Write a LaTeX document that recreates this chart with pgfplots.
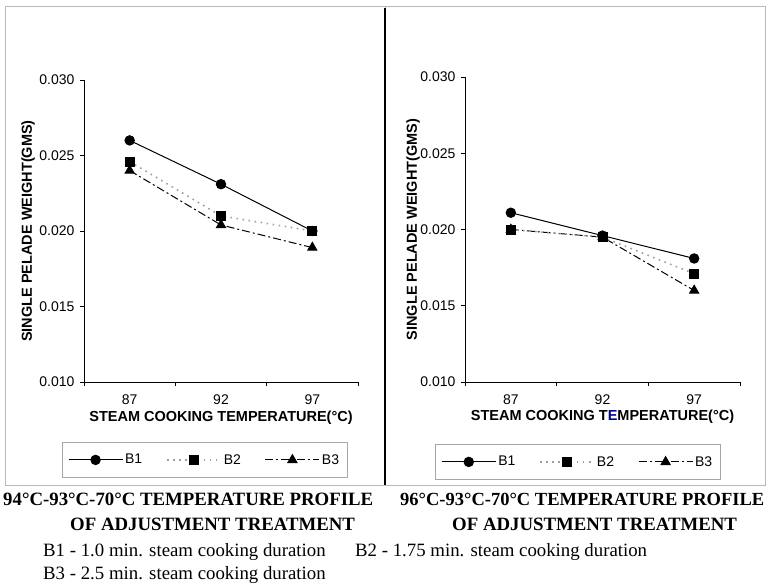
\documentclass[border=0pt]{standalone}
\usepackage{pgfplots}
\pgfplotsset{compat=1.18}
\usepackage{fontspec}
\setmainfont{Liberation Serif}
\newfontfamily\arial{Liberation Sans}

\pgfplotsset{
  common/.style={
    scale only axis,
    anchor=south west,
    xmin=-0.5, xmax=2.5,
    ymin=0.010, ymax=0.030,
    axis x line*=bottom, axis y line*=left,
    axis line style={black, line width=0.9pt, -},
    xtick={0,1,2}, xticklabels={87,92,97},
    major x tick style={draw=none},
    minor xtick={-0.5,0.5,1.5,2.5},
    minor tick length=4pt,
    ytick={0.010,0.015,0.020,0.025,0.030},
    major tick length=4pt,
    tick align=outside,
    tick style={black, line width=0.7pt},
    yticklabel style={xshift=-2pt, /pgf/number format/.cd, fixed, fixed zerofill, precision=3},
    scaled y ticks=false,
    /pgf/number format/assume math mode=true,
    ticklabel style={font=\arial\fontsize{14}{15}\selectfont},
    xticklabel style={yshift=-5pt},
    label style={font=\arial\bfseries\fontsize{14.5}{16}\selectfont},
    ylabel={SINGLE PELADE WEIGHT(GMS)},
    legend columns=3,
    reverse legend,
    legend cell align=left,
    legend style={draw=gray!70, line width=0.8pt, anchor=center,
      inner xsep=6pt, inner ysep=10pt,
      font=\arial\fontsize{14}{15}\selectfont,
      /tikz/every even column/.append style={column sep=22pt}},
    legend image code/.code={\draw[mark repeat=2, mark phase=2, #1] plot coordinates {(0pt,0pt) (27pt,0pt) (54pt,0pt)};},
  },
  sB1/.style={black, line width=1pt, mark=*, mark size=4.7pt, mark options={solid}},
  sB2/.style={gray!75, line width=1.6pt, dash pattern=on 1.6pt off 4.5pt, mark=square*, mark size=4.2pt, mark options={solid, black, fill=black}},
  sB3/.style={black, line width=1pt, dash pattern=on 8pt off 3pt on 2pt off 3pt, mark=triangle*, mark size=5.2pt, mark options={solid}},
}

\begin{document}
\begin{tikzpicture}
\useasboundingbox (0pt,0pt) rectangle (770pt,-586pt);
% panel frames
\draw[gray!55, line width=0.8pt] (5pt,-6pt) rectangle (385pt,-485pt);
\draw[gray!55, line width=0.8pt] (385pt,-6pt) rectangle (765pt,-485pt);
\draw[black, line width=1.3pt] (385pt,-8pt) -- (385pt,-485pt);

% left chart
\begin{axis}[common, at={(84pt,-382pt)}, width=274pt, height=302pt,
  xlabel={STEAM COOKING TEMPERATURE(°C)},
  xlabel style={at={(axis description cs:0.5,-0.12)}, anchor=center},
  ylabel style={at={(axis description cs:-0.204,0.5)}, anchor=center},
  legend style={at={(axis description cs:0.44,-0.258)}}]
\addplot[sB3] coordinates {(0,0.0240) (1,0.0204) (2,0.0189)};
\addlegendentry{B3}
\addplot[sB2] coordinates {(0,0.0246) (1,0.0210) (2,0.0200)};
\addlegendentry{B2}
\addplot[sB1] coordinates {(0,0.0260) (1,0.0231) (2,0.0200)};
\addlegendentry{B1}
\end{axis}

% right chart
\begin{axis}[common, at={(465pt,-382pt)}, width=275pt, height=305pt,
  xlabel={STEAM COOKING T\textcolor{blue!60!black}{E}MPERATURE(°C)},
  xlabel style={at={(axis description cs:0.5,-0.113)}, anchor=center},
  ylabel style={at={(axis description cs:-0.189,0.5)}, anchor=center},
  legend style={at={(axis description cs:0.41,-0.262)}}]
\addplot[sB3] coordinates {(0,0.0200) (1,0.0195) (2,0.0160)};
\addlegendentry{B3}
\addplot[sB2] coordinates {(0,0.0200) (1,0.0195) (2,0.0171)};
\addlegendentry{B2}
\addplot[sB1] coordinates {(0,0.0211) (1,0.0196) (2,0.0181)};
\addlegendentry{B1}
\end{axis}

% captions
\begin{scope}[every node/.style={inner sep=0pt, anchor=base west}]
\node at (3pt,-505pt) {\fontsize{18.8}{20}\selectfont\bfseries 94°C-93°C-70°C TEMPERATURE PROFILE};
\node at (70pt,-530pt) {\fontsize{18.8}{20}\selectfont\bfseries OF ADJUSTMENT TREATMENT};
\node at (400pt,-505pt) {\fontsize{18.5}{20}\selectfont\bfseries 96°C-93°C-70°C TEMPERATURE PROFILE};
\node at (452pt,-530pt) {\fontsize{18.8}{20}\selectfont\bfseries OF ADJUSTMENT TREATMENT};
\node at (43pt,-556pt) {\fontsize{18.8}{20}\selectfont B1 - 1.0 min. steam cooking duration};
\node at (355pt,-556pt) {\fontsize{18.8}{20}\selectfont B2 - 1.75 min. steam cooking duration};
\node at (43pt,-579pt) {\fontsize{18.8}{20}\selectfont B3 - 2.5 min. steam cooking duration};
\end{scope}
\end{tikzpicture}
\end{document}
